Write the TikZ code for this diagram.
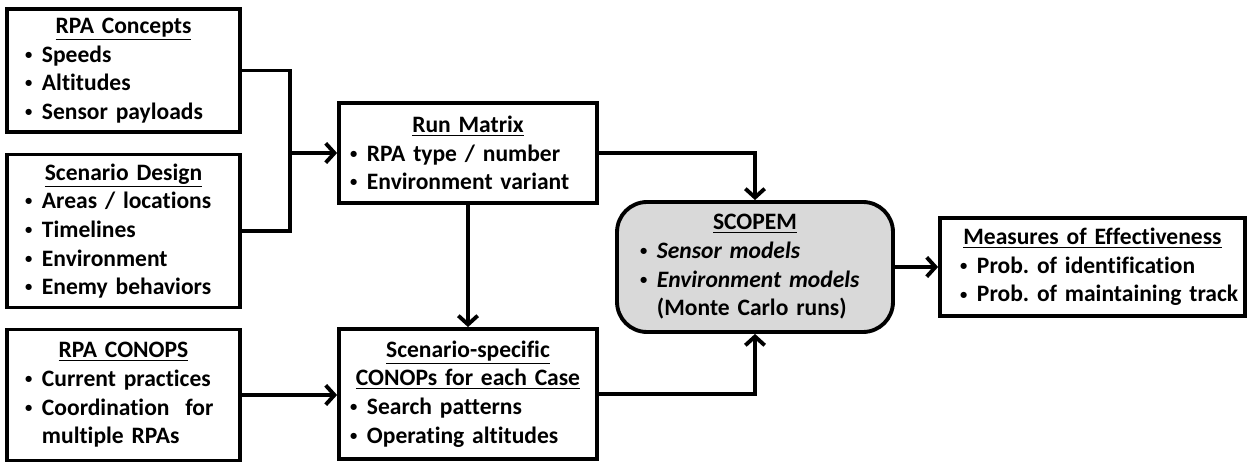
\documentclass[tikz,border=0pt]{standalone}
\usepackage{fontspec}
\setmainfont{Carlito}[Ligatures=NoCommon]
\usetikzlibrary{arrows.meta}

\newcommand{\btitle}[1]{\makebox[\linewidth]{\underline{#1}}}
\newcommand{\bitem}[1]{\mbox{\makebox[0.72em][l]{\raisebox{0.12em}{\scalebox{0.62}{\textbullet}}}#1}}
\newcommand{\bcont}[1]{\mbox{\hspace*{0.72em}#1}}

\tikzset{
  blockbox/.style={draw, line width=2.2pt, fill=white, inner sep=0pt, align=left,
    font=\fontsize{13.4pt}{16.3pt}\selectfont\bfseries\frenchspacing},
  simbox/.style={blockbox, rounded corners=0.6cm, fill=gray!30},
  flow/.style={line width=2.2pt, -{Straight Barb[length=5pt,width=11pt]}},
  link/.style={line width=2.2pt}
}

\begin{document}
\begin{tikzpicture}[x=0.02cm,y=-0.02cm]
  \useasboundingbox (0,0) rectangle (1250,462);

  % Inputs
  \node[blockbox, minimum width=4.66cm, minimum height=2.46cm, text width=3.94cm]
    (concepts) at (123.5,70.5)
    {\btitle{RPA Concepts}\\ \bitem{Speeds}\\ \bitem{Altitudes}\\ \bitem{Sensor payloads}};
  \node[blockbox, minimum width=4.66cm, minimum height=3.06cm, text width=3.94cm]
    (design) at (123.5,231)
    {\btitle{Scenario Design}\\ \bitem{Areas / locations}\\ \bitem{Timelines}\\
     \bitem{Environment}\\ \bitem{Enemy behaviors}};
  \node[blockbox, minimum width=4.66cm, minimum height=2.62cm, text width=3.94cm]
    (conops) at (123.5,395)
    {\btitle{RPA CONOPS}\\ \bitem{Current practices}\\ \bitem{Coordination\ \ for}\\
     \bcont{multiple RPAs}};

  % Middle column
  \node[blockbox, minimum width=5.16cm, minimum height=2.0cm, text width=4.72cm]
    (runmatrix) at (468,153)
    {\btitle{Run Matrix}\\ \bitem{RPA type / number}\\ \bitem{Environment variant}};
  \node[blockbox, minimum width=5.16cm, minimum height=2.6cm, text width=4.72cm]
    (cases) at (468,394)
    {\btitle{Scenario-specific}\\ \btitle{CONOPs for each Case}\\
     \bitem{Search patterns}\\ \bitem{Operating altitudes}};

  % Simulation and output
  \node[simbox, minimum width=5.52cm, minimum height=2.6cm, text width=4.6cm]
    (scopem) at (755,267)
    {\btitle{SCOPEM}\\ \bitem{\textit{Sensor models}}\\ \bitem{\textit{Environment models}}\\
     \bcont{(Monte Carlo runs)}};
  \node[blockbox, minimum width=6.1cm, minimum height=1.96cm, text width=5.3cm]
    (moe) at (1092.5,267)
    {\btitle{Measures of Effectiveness}\\ \bitem{Prob. of identification}\\
     \bitem{Prob. of maintaining track}};

  % Connectors
  \coordinate (join) at (290,153);
  \draw[link] (concepts.east) -| (join) |- (design.east);
  \draw[flow] (join) -- (runmatrix.west);
  \draw[flow] (runmatrix.south) -- (cases.north);
  \draw[flow] (conops.east) -- (conops.east -| cases.west);
  \draw[flow] (runmatrix.east) -| (scopem.north);
  \draw[flow] (cases.east) -| (scopem.south);
  \draw[flow] (scopem.east) -- (moe.west);
\end{tikzpicture}
\end{document}
